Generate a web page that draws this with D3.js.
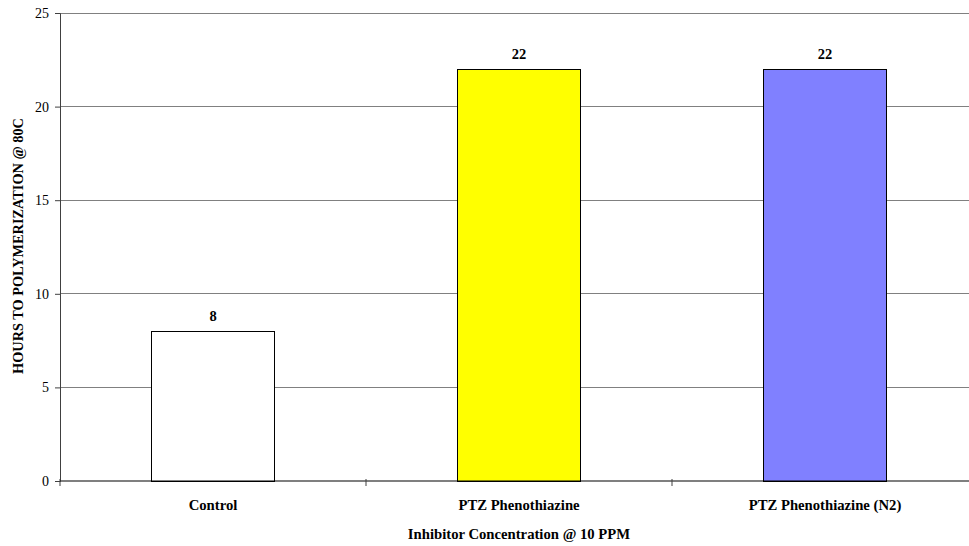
<!DOCTYPE html>
<html>
<head>
<meta charset="utf-8">
<script src="https://cdn.jsdelivr.net/npm/d3@7"></script>
<style>
  html, body { margin: 0; padding: 0; background: #fff; }
  svg { display: block; }
  text { font-family: "Liberation Serif", "Times New Roman", serif; }
</style>
</head>
<body>
<svg id="chart" width="969" height="546"></svg>
<script>
// Hours to polymerization at 80C for each inhibitor
const categories = ["Control", "PTZ Phenothiazine", "PTZ Phenothiazine (N2)"];
const hours = [8, 22, 22];
const barColors = ["#ffffff", "#ffff00", "#8080ff"];
const yTicks = [0, 5, 10, 15, 20, 25];

const yTitle = "HOURS TO POLYMERIZATION @ 80C";
const xTitle = "Inhibitor Concentration @ 10 PPM";

const FONT = "Liberation Serif, Times New Roman, serif";
const svg = d3.select("#chart");
const margin = { left: 60, top: 13, right: -9, bottom: 65 };
const W = 969, H = 546;
const x0 = margin.left, x1 = W - margin.right;
const yTop = margin.top, yBot = H - margin.bottom;

const x = d3.scaleBand().domain(categories).range([x0, x1]).paddingInner(0.6).paddingOuter(0.3);
const xOuter = d3.scaleBand().domain(categories).range([x0, x1]);
const y = d3.scaleLinear().domain([0, 25]).range([yBot, yTop]);

// horizontal gridlines
svg.append("g")
  .selectAll("line")
  .data(yTicks.filter(d => d > 0))
  .join("line")
  .attr("x1", x0).attr("x2", x1)
  .attr("y1", d => y(d)).attr("y2", d => y(d))
  .attr("stroke", "#808080").attr("stroke-width", 1).attr("shape-rendering", "crispEdges");

// bars
svg.append("g")
  .selectAll("rect")
  .data(hours)
  .join("rect")
  .attr("x", (d, i) => x(categories[i]))
  .attr("width", x.bandwidth())
  .attr("y", d => y(d))
  .attr("height", d => y(0) - y(d))
  .attr("fill", (d, i) => barColors[i])
  .attr("stroke", "#000").attr("stroke-width", 1).attr("shape-rendering", "crispEdges");

// value labels
svg.append("g")
  .selectAll("text")
  .data(hours)
  .join("text")
  .attr("x", (d, i) => x(categories[i]) + x.bandwidth() / 2)
  .attr("y", d => y(d) - 10)
  .attr("text-anchor", "middle")
  .attr("font-family", FONT)
  .attr("font-size", 14.5).attr("font-weight", "bold")
  .text(d => d);

// y axis
const yAxis = d3.axisLeft(y).tickValues(yTicks).tickSize(5).tickPadding(6);
const gy = svg.append("g").attr("transform", `translate(${x0},0)`).call(yAxis)
  .attr("font-family", FONT).attr("font-size", 14);
gy.select(".domain").attr("stroke", "#404040");
gy.selectAll(".tick line").attr("stroke", "#404040");
gy.selectAll("text").attr("fill", "#000");

// x axis with ticks at category boundaries
const boundaries = categories.map(c => xOuter(c)).concat([x1]);
const gx = svg.append("g");
gx.append("line").attr("x1", x0).attr("x2", x1).attr("y1", yBot).attr("y2", yBot)
  .attr("stroke", "#000").attr("stroke-width", 1.2);
gx.selectAll("line.tk")
  .data(boundaries)
  .join("line").attr("class", "tk")
  .attr("x1", d => d).attr("x2", d => d)
  .attr("y1", yBot - 2).attr("y2", yBot + 5)
  .attr("stroke", "#404040");
gx.selectAll("text")
  .data(categories)
  .join("text")
  .attr("x", c => xOuter(c) + xOuter.bandwidth() / 2)
  .attr("y", yBot + 29)
  .attr("text-anchor", "middle")
  .attr("font-family", FONT)
  .attr("font-size", 14.7).attr("font-weight", "bold")
  .text(c => c);

// axis titles
svg.append("text")
  .attr("x", (x0 + x1) / 2).attr("y", 539)
  .attr("text-anchor", "middle")
  .attr("font-family", FONT)
  .attr("font-size", 14.7).attr("font-weight", "bold")
  .text(xTitle);

svg.append("text")
  .attr("transform", `translate(23,246) rotate(-90)`)
  .attr("text-anchor", "middle")
  .attr("font-family", FONT)
  .attr("font-size", 14.3).attr("font-weight", "bold")
  .text(yTitle);
</script>
</body>
</html>
